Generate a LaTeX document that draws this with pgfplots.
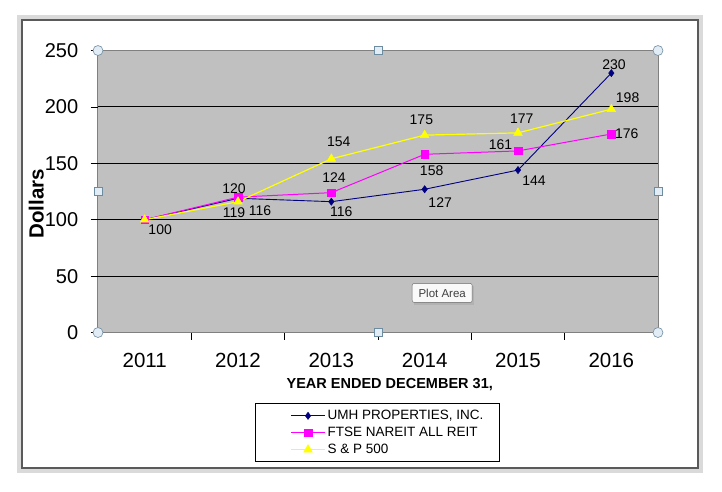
\documentclass[border=0pt]{standalone}
\usepackage{fontspec}
\setmainfont{Liberation Sans}
\usepackage{pgfplots}
\pgfplotsset{compat=1.18}
\usepackage{pgfplotstable}

\definecolor{umh}{RGB}{0,0,128}
\definecolor{ftse}{RGB}{255,0,255}
\definecolor{snp}{RGB}{255,255,0}
\definecolor{plotbg}{RGB}{192,192,192}
\definecolor{bordergray}{RGB}{128,128,128}
\definecolor{handlefill}{RGB}{225,236,245}
\definecolor{handledraw}{RGB}{110,140,160}
\definecolor{framelight}{RGB}{218,218,218}
\definecolor{framedark}{RGB}{90,90,90}

\pgfplotstableread{
x y dx dy lab
0 100 15.5 -9.6 100
1 119 -4 -14.4 119
2 116 10 -9.9 116
3 127 15.5 -13.5 127
4 144 16 -10.4 144
5 230 2.6 8 230
}\umhdata
\pgfplotstableread{
x y dx dy lab
0 100 0 0 {}
1 120 -4 8 120
2 124 2.6 15 124
3 158 7 -16.2 158
4 161 -17.4 6.7 161
5 176 15.5 0.6 176
}\ftsedata
\pgfplotstableread{
x y dx dy lab
0 100 0 0 {}
1 116 22 -9.4 116
2 154 7.4 17 154
3 175 -3.3 15 175
4 177 3.7 14 177
5 198 16.3 11.7 198
}\snpdata

\pgfplotsset{
  labelled/.style={
    nodes near coords,
    point meta=explicit symbolic,
    visualization depends on={\thisrow{dx}\as\dx},
    visualization depends on={\thisrow{dy}\as\dy},
    nodes near coords style={font=\fontsize{14}{16}\selectfont, text=black,
      anchor=center, inner sep=0pt, xshift=\dx pt, yshift=\dy pt},
  },
}

\begin{document}
\begin{tikzpicture}[x=1pt,y=1pt]
\useasboundingbox (0,0) rectangle (722,491);
% outer chart frame
\draw[framelight, line width=5pt] (19.5,473.5) rectangle (700.5,20.5);
\draw[framedark, line width=1.2pt] (22,471) rectangle (698,23);
\begin{axis}[
  at={(105,140.5)}, anchor=south west,
  scale only axis, width=560pt, height=282pt,
  xmin=-0.5, xmax=5.5, ymin=0, ymax=250,
  axis background/.style={fill=plotbg},
  axis line style={bordergray, line width=1pt},
  xtick={0,1,2,3,4,5},
  xticklabels={2011,2012,2013,2014,2015,2016},
  xtick style={draw=none},
  extra x ticks={0.5,1.5,2.5,3.5,4.5},
  extra x tick labels={},
  extra x tick style={xtick style={draw=black, line width=0.6pt}},
  ytick={0,50,100,150,200,250},
  ytick style={draw=black, line width=0.6pt},
  extra y ticks={50,100,150,200},
  extra y tick labels={},
  extra y tick style={grid=major, grid style={black, line width=1pt}},
  tick align=outside, tick pos=left,
  major tick length=7pt,
  /pgf/number format/assume math mode=true,
  tick label style={font=\fontsize{20}{24}\selectfont, text=black},
  xticklabel style={yshift=-10pt, font=\fontsize{20.5}{24}\selectfont},
  yticklabel style={xshift=-9.3pt},
  xlabel={YEAR ENDED DECEMBER 31,},
  ylabel={Dollars},
  xlabel style={font=\bfseries\fontsize{14.5}{17}\selectfont, at={(axis description cs:0.521,-0.184)}, anchor=center},
  ylabel style={font=\bfseries\fontsize{20.5}{24}\selectfont, at={(axis description cs:-0.11,0.457)}, anchor=center},
  legend style={at={(axis description cs:0.2804,-0.2516)}, anchor=north west,
    draw=black, line width=0.8pt, fill=white,
    font=\fontsize{13.5}{16}\selectfont, inner xsep=14pt, inner ysep=4.5pt,
    row sep=2pt, cells={anchor=west}},
  legend image code/.code={\path (-21pt,0pt); \draw[#1, mark repeat=2, mark phase=2] plot coordinates {(0pt,0pt) (17pt,0pt) (34pt,0pt)};},
  clip=false,
]
\addplot[umh, line width=0.9pt, mark=diamond*, mark size=3.6pt, mark options={fill=umh, draw=umh, line width=0.5pt}, labelled]
  table[x=x, y=y, meta=lab]{\umhdata};
\addlegendentry{UMH PROPERTIES, INC.}
\addplot[ftse, line width=1pt, mark=square*, mark size=3.8pt, mark options={fill=ftse, draw=ftse, line width=0.5pt}, labelled]
  table[x=x, y=y, meta=lab]{\ftsedata};
\addlegendentry{FTSE NAREIT ALL REIT}
\addplot[snp, line width=1.2pt, mark=triangle*, mark size=5pt, mark options={fill=snp, draw=snp, line width=0.5pt}, labelled]
  table[x=x, y=y, meta=lab]{\snpdata};
\addlegendentry{S \& P 500}
% selection handles of the plot area
\draw[handledraw, fill=handlefill, line width=0.6pt] (rel axis cs:0,0) circle[radius=5pt];
\draw[handledraw, fill=handlefill, line width=0.6pt] (rel axis cs:1,0) circle[radius=5pt];
\draw[handledraw, fill=handlefill, line width=0.6pt] (rel axis cs:0,1) circle[radius=5pt];
\draw[handledraw, fill=handlefill, line width=0.6pt] (rel axis cs:1,1) circle[radius=5pt];
\node[draw=handledraw, fill=handlefill, line width=0.6pt, minimum size=8pt, inner sep=0pt] at (rel axis cs:0.5,0) {};
\node[draw=handledraw, fill=handlefill, line width=0.6pt, minimum size=8pt, inner sep=0pt] at (rel axis cs:0.5,1) {};
\node[draw=handledraw, fill=handlefill, line width=0.6pt, minimum size=8pt, inner sep=0pt] at (rel axis cs:0,0.5) {};
\node[draw=handledraw, fill=handlefill, line width=0.6pt, minimum size=8pt, inner sep=0pt] at (rel axis cs:1,0.5) {};
% tooltip
\fill[gray!60] (rel axis cs:0.5607,0.106) ++(2.5pt,-2.5pt) rectangle ++(60pt,19pt);
\node[draw=gray!80!black, fill=gray!5, rounded corners=2pt, minimum width=60pt, minimum height=19pt, inner sep=0pt,
  font=\fontsize{11.5}{13}\selectfont, text=black!75, anchor=south west] at (rel axis cs:0.5607,0.106) {Plot Area};
\end{axis}
\end{tikzpicture}
\end{document}
